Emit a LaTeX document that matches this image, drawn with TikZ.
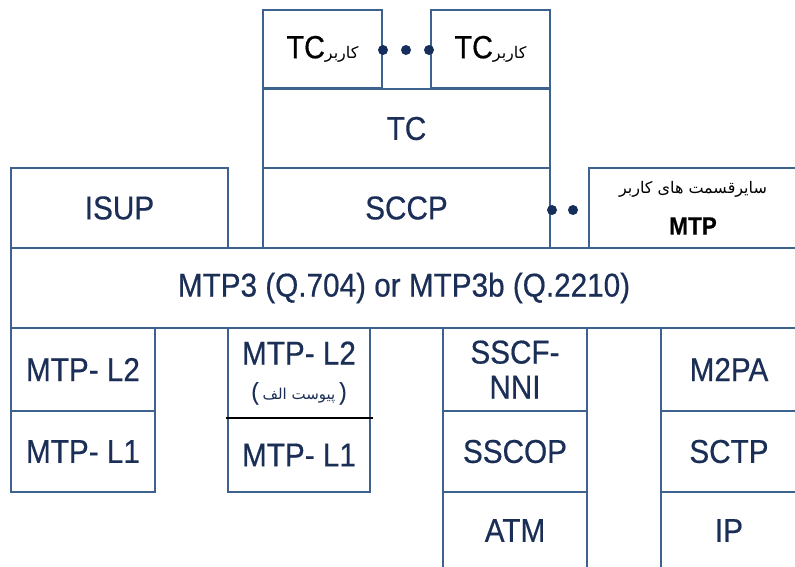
\documentclass[tikz,border=0pt]{standalone}
\usepackage{fontspec}
\setmainfont[FakeStretch=0.9,FakeBold=0.5]{Liberation Sans}
\newfontfamily\fafont[Script=Arabic]{DejaVu Sans}
\TeXXeTstate=1
\usepackage{xcolor}
\usepackage{tikz}

\definecolor{edgeblue}{RGB}{62,98,142}
\definecolor{textblue}{RGB}{26,46,86}
\definecolor{dotblue}{RGB}{22,46,92}

\begin{document}
\begin{tikzpicture}[x=1pt, y=-1pt,
    box/.style={draw=edgeblue, line width=2.4pt, inner sep=0pt, outer sep=0pt, align=center, text=textblue, font=\fontsize{33}{39}\selectfont},
    dot/.style={circle, fill=dotblue, inner sep=0pt, minimum size=10pt}
]
    \useasboundingbox (0,0) rectangle (795,566);
    \clip (0,0) rectangle (795,566);

    % TC users
    \node[box, minimum width=119pt, minimum height=78pt, text=black] (tcusera) at (322.5,49) {\fontsize{32}{36}\selectfont TC{\fafont\fontsize{16}{20}\selectfont\beginR کاربر\endR}};
    \node[box, minimum width=119pt, minimum height=78pt, text=black] (tcuserb) at (490.5,49) {\fontsize{32}{36}\selectfont TC{\fafont\fontsize{16}{20}\selectfont\beginR کاربر\endR}};
    \node[dot] (tcdota) at (383,50) {};
    \node[dot] (tcdotb) at (406,50) {};
    \node[dot] (tcdotc) at (429,50) {};

    % TC and SCCP
    \node[box, minimum width=287pt, minimum height=79pt] (tc) at (406.5,128.5) {TC};
    \node[box, minimum width=287pt, minimum height=80pt] (sccp) at (406.5,208) {SCCP};
    \node[dot] (sccpdota) at (552,210) {};
    \node[dot] (sccpdotb) at (573,210) {};

    % MTP users
    \node[box, minimum width=217pt, minimum height=80pt] (isup) at (119.5,208) {ISUP};
    \node[box, minimum width=208pt, minimum height=80pt, text=black] (others) at (693,208) {{\fafont\fontsize{16}{20}\selectfont\beginR سایرقسمت های کاربر\endR}\\[2pt]{\bfseries\fontsize{25}{28}\selectfont MTP}};

    % MTP3
    \node[box, minimum width=786pt, minimum height=80pt] (mtp3) at (404,288) {MTP3 (Q.704) or MTP3b (Q.2210)};

    % MTP L2/L1
    \node[box, minimum width=144pt, minimum height=83pt] (ltwoa) at (83,369.5) {MTP- L2};
    \node[box, minimum width=144pt, minimum height=81pt] (lonea) at (83,451.5) {MTP- L1};
    \node[box, minimum width=142pt, minimum height=90pt] (ltwob) at (299,373) {MTP- L2\\[-4pt]{\fontsize{24}{28}\selectfont(\,{\fafont\fontsize{15}{18}\selectfont\beginR پیوست الف\endR}\,)}};
    \node[box, minimum width=142pt, minimum height=74pt] (loneb) at (299,455) {MTP- L1};
    \draw[black, line width=2pt] ([xshift=-2pt]ltwob.south west) -- ([xshift=3pt]ltwob.south east);

    % ATM stack
    \node[box, minimum width=144pt, minimum height=83pt] (sscf) at (515,369.5) {SSCF-\\[-4pt]NNI};
    \node[box, minimum width=144pt, minimum height=81pt] (sscop) at (515,451.5) {SSCOP};
    \node[box, minimum width=144pt, minimum height=83pt] (atm) at (515,533.5) {\raisebox{6pt}{ATM}};

    % IP stack
    \node[box, minimum width=136pt, minimum height=83pt] (mtwopa) at (729,369.5) {M2PA};
    \node[box, minimum width=136pt, minimum height=81pt] (sctp) at (729,451.5) {SCTP};
    \node[box, minimum width=136pt, minimum height=83pt] (ip) at (729,533.5) {\raisebox{6pt}{IP}};
\end{tikzpicture}
\end{document}
